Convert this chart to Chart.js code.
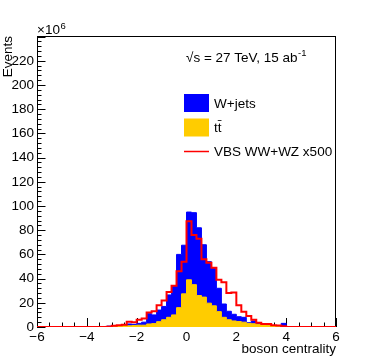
<!DOCTYPE html>
<html>
<head>
<meta charset="utf-8">
<script src="https://cdn.jsdelivr.net/npm/chart.js@4.4.1/dist/chart.umd.min.js"></script>
<style>
  html, body { margin: 0; padding: 0; background: #fff; }
</style>
</head>
<body>
<canvas id="c" width="374" height="364"></canvas>
<script>
// histogram binning: 60 bins of 0.2 from -6 to 6
const xMin = -6, xMax = 6, binWidth = 0.2;
const yMax = 240.5;

// values in units of 10^6 events, one per bin (lower edge -6, -5.8, ...)
const ttbar = [
  0, 0, 0, 0, 0, 0, 0, 0, 0, 0,
  0, 0, 0, 0.2, 0.5, 0.6, 0.8, 1.0, 1.0, 1.2,
  1.5, 1.5, 2.5, 2.8, 4.4, 6, 8, 10, 16, 27.4,
  39, 35, 26, 24.7, 19.7, 17.5, 12.7, 8, 6, 5,
  4.5, 4, 3, 2.7, 2.2, 1.8, 1.4, 1.0, 0.7, 0.5,
  0, 0, 0, 0, 0, 0, 0, 0, 0, 0
];
const wjets = [
  0, 0, 0, 0, 0, 0, 0, 0, 0, 0,
  0, 0, 0, 0.1, 0.3, 0.4, 0.4, 0.6, 1.5, 1.0,
  1.5, 2.5, 8.5, 7.2, 9.6, 11, 18.5, 24, 44, 40.2,
  56, 59.5, 56, 43.3, 34.3, 31.5, 19.3, 11, 7, 5.5,
  4, 4, 0.6, 2.3, 0.8, 0.2, 0, 0.2, 0.3, 2.5,
  0, 0, 0, 0, 0, 0, 0, 0, 0, 0
];
const vbs = [
  0, 0, 0, 0, 0, 0, 0, 0, 0, 0,
  0, 0, 0, 0, 0.3, 1.0, 1.5, 1.8, 4.4, 4,
  6, 7, 12, 13, 18, 22, 29, 34, 46, 54,
  87.5, 76, 73, 56, 53, 49, 39, 37, 28, 28.5,
  18, 12.7, 9, 6, 3.6, 2.5, 2.5, 1.4, 1.2, 0.6,
  0, 0, 0, 0, 0, 0, 0, 0, 0, 0
];

const xTicks = [-6, -4, -2, 0, 2, 4, 6];
const yTicks = [0, 20, 40, 60, 80, 100, 120, 140, 160, 180, 200, 220];

// points at lower bin edges, plus closing point at the upper edge
function histPoints(vals) {
  const pts = vals.map((v, i) => ({ x: xMin + i * binWidth, y: v }));
  pts.push({ x: xMax, y: vals[vals.length - 1] });
  return pts;
}

const stackTop = ttbar.map((v, i) => v + wjets[i]);

const FONT = '"Liberation Sans", Arial, sans-serif';
Chart.defaults.font.family = FONT;
Chart.defaults.font.size = 13.5;
Chart.defaults.color = '#000';

const rootFrame = {
  id: 'rootFrame',
  beforeDatasetsDraw(chart) {
    const { ctx, chartArea: a, scales: { x, y } } = chart;
    ctx.save();
    ctx.strokeStyle = '#000';
    ctx.lineWidth = 1;
    ctx.beginPath();
    for (let k = 0; k <= 24; k++) {
      const v = xMin + k * 0.5;
      const px = Math.round(x.getPixelForValue(v)) + 0.5;
      const len = (k % 4 === 0) ? 9 : 4.5;
      ctx.moveTo(px, a.bottom);
      ctx.lineTo(px, a.bottom - len);
    }
    for (let v = 0; v <= yMax; v += 4) {
      const py = Math.round(y.getPixelForValue(v)) + 0.5;
      const len = (v % 20 === 0) ? 8.5 : 4.5;
      ctx.moveTo(a.left, py);
      ctx.lineTo(a.left + len, py);
    }
    ctx.stroke();
    ctx.strokeRect(a.left + 0.5, a.top + 0.5, a.width - 1, a.height - 1);
    ctx.restore();
  },
  afterDraw(chart) {
    const { ctx, chartArea: a } = chart;
    ctx.save();
    ctx.fillStyle = '#000';
    ctx.textBaseline = 'alphabetic';
    ctx.textAlign = 'left';

    // exponent label above the y axis
    ctx.font = '13.5px ' + FONT;
    ctx.fillText('\u00d710', a.left, 34);
    let w = ctx.measureText('\u00d710').width;
    ctx.font = '9.5px ' + FONT;
    ctx.fillText('6', a.left + w + 0.5, 29);

    // energy / luminosity text
    ctx.font = '13.5px ' + FONT;
    const s = '\u221as = 27 TeV, 15 ab';
    ctx.fillText(s, 186, 62);
    w = ctx.measureText(s).width;
    ctx.font = '9.5px ' + FONT;
    ctx.fillText('-1', 186 + w + 0.5, 56);

    // legend
    const rows = [
      { label: 'W+jets', type: 'box', color: '#0000ff', y: 103 },
      { label: 'tt', type: 'box', color: '#ffcc00', y: 127.5 },
      { label: 'VBS WW+WZ x500', type: 'line', color: '#ff0000', y: 151.5 }
    ];
    ctx.font = '13.5px ' + FONT;
    ctx.textBaseline = 'middle';
    rows.forEach(r => {
      if (r.type === 'box') {
        ctx.fillStyle = r.color;
        ctx.fillRect(184, r.y - 9, 25, 18);
      } else {
        ctx.strokeStyle = r.color;
        ctx.lineWidth = 1.5;
        ctx.beginPath();
        ctx.moveTo(184, r.y);
        ctx.lineTo(209, r.y);
        ctx.stroke();
      }
      ctx.fillStyle = '#000';
      ctx.fillText(r.label, 214, r.y + 1);
    });
    // bar over the second t of "tt"
    const tw = ctx.measureText('t').width;
    ctx.strokeStyle = '#000';
    ctx.lineWidth = 0.8;
    ctx.beginPath();
    ctx.moveTo(214 + tw, 120.5);
    ctx.lineTo(214 + 2 * tw, 120.5);
    ctx.stroke();
    ctx.restore();
  }
};

new Chart(document.getElementById('c'), {
  type: 'line',
  data: {
    datasets: [
      {
        label: 'VBS WW+WZ x500',
        data: histPoints(vbs),
        stepped: 'before',
        borderColor: '#ff0000',
        borderWidth: 2,
        fill: false,
        pointRadius: 0,
        order: 0
      },
      {
        label: 'tt',
        data: histPoints(ttbar),
        stepped: 'before',
        borderColor: '#ffcc00',
        backgroundColor: '#ffcc00',
        borderWidth: 1,
        fill: 'origin',
        pointRadius: 0,
        order: 1
      },
      {
        label: 'W+jets',
        data: histPoints(stackTop),
        stepped: 'before',
        borderColor: '#0000ff',
        backgroundColor: '#0000ff',
        borderWidth: 1,
        fill: 'origin',
        pointRadius: 0,
        order: 2
      }
    ]
  },
  options: {
    responsive: false,
    animation: false,
    parsing: true,
    layout: { padding: { top: 36, right: 38, left: 0, bottom: 0 } },
    plugins: { legend: { display: false }, tooltip: { enabled: false } },
    scales: {
      x: {
        type: 'linear',
        min: xMin,
        max: xMax,
        grid: { display: false, drawTicks: false },
        border: { display: false },
        afterBuildTicks: s => { s.ticks = xTicks.map(v => ({ value: v })); },
        ticks: {
          padding: 2,
          maxRotation: 0,
          autoSkip: false,
          callback: v => (v < 0 ? '\u2212' + Math.abs(v) : String(v))
        },
        title: {
          display: true,
          text: 'boson centrality',
          align: 'end',
          padding: { top: 0, bottom: 7 }
        },
        afterFit: s => { s.height = 37; }
      },
      y: {
        type: 'linear',
        min: 0,
        max: yMax,
        grid: { display: false, drawTicks: false },
        border: { display: false },
        afterBuildTicks: s => { s.ticks = yTicks.map(v => ({ value: v })); },
        ticks: { padding: 3, autoSkip: false },
        title: {
          display: true,
          text: 'Events',
          align: 'end',
          padding: { top: 0, bottom: 0 }
        },
        afterFit: s => { s.width = 37; }
      }
    }
  },
  plugins: [rootFrame]
});
</script>
</body>
</html>
